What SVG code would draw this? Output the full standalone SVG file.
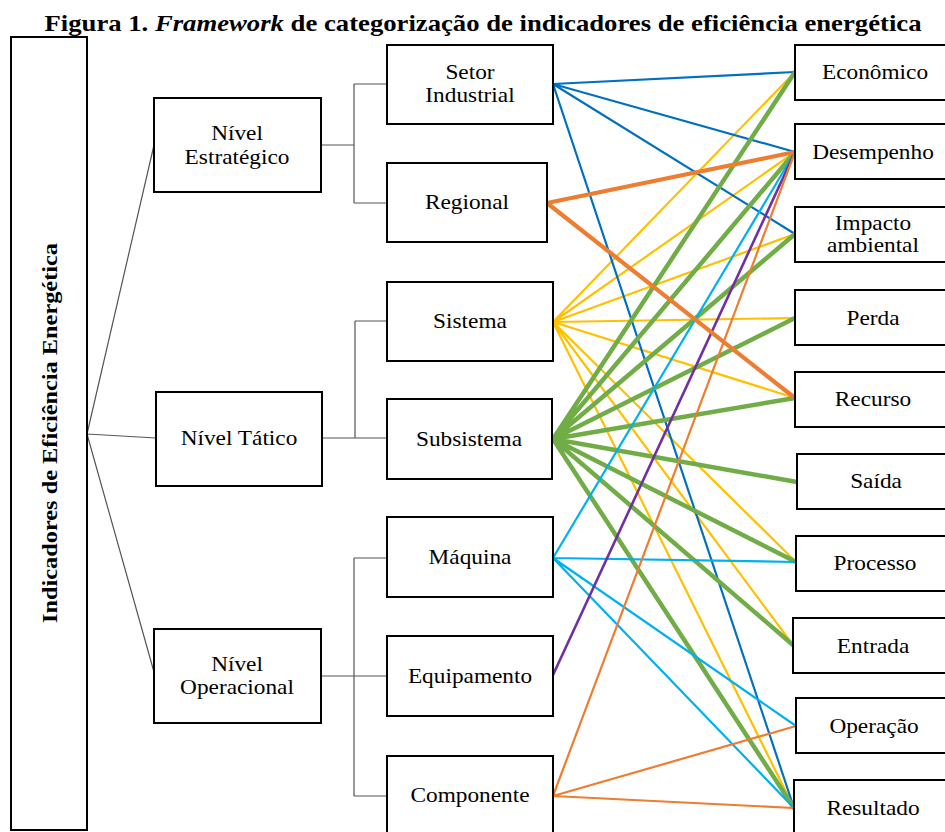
<svg xmlns="http://www.w3.org/2000/svg" width="945" height="832" viewBox="0 0 945 832">
<style>
.box{fill:#fff;stroke:#000;stroke-width:2}
.t{font-family:'Liberation Serif','Times New Roman',Tinos,serif;font-size:21px;fill:#000;text-anchor:middle}
.ttl{font-family:'Liberation Serif','Times New Roman',Tinos,serif;font-weight:bold;fill:#000;text-anchor:middle}
.tree{fill:none;stroke:#555;stroke-width:1.2}
.c{fill:none;stroke-linecap:round}
.blue{stroke:#0070C0;stroke-width:2.2}
.orT{stroke:#ED7D31;stroke-width:4.2}
.or{stroke:#ED7D31;stroke-width:2.2}
.yel{stroke:#FFC000;stroke-width:2.2}
.grn{stroke:#70AD47;stroke-width:4.5}
.cy{stroke:#00B0F0;stroke-width:2.2}
.pu{stroke:#7030A0;stroke-width:2.6}
</style>
<rect width="945" height="832" fill="#fff"/>
<text class="ttl" x="483" y="31" font-size="23.5" textLength="877" lengthAdjust="spacingAndGlyphs">Figura 1. <tspan font-style="italic">Framework</tspan> de categorização de indicadores de eficiência energética</text>

<g id="tree-lines">
<path class="tree" d="M87,434 L154,145 M87,434 L156,438 M87,434 L154,672"/>
<path class="tree" d="M321,145 H354 M354,84 V203 M354,84 H387 M354,203 H387"/>
<path class="tree" d="M322,438 H387 M355,321 V438 M355,321 H387"/>
<path class="tree" d="M321,676 H387 M354,558 V796 M354,558 H387 M354,796 H387"/>
</g>

<g id="connectors">
<path class="c yel" d="M553,322 L795,72 M553,322 L795,152 M553,322 L795,234 M553,322 L795,318 M553,322 L795,398 M553,322 L796,562 M553,322 L793,645 M553,322 L794,808"/>
<path class="c blue" d="M553,84 L795,72 M553,84 L795,152 M553,84 L795,234 M553,84 L794,808"/>
<path class="c grn" d="M553,439 L795,72 M553,439 L795,152 M553,439 L795,234 M553,439 L795,318 M553,439 L795,398 M553,439 L797,482 M553,439 L796,562 M553,439 L793,645 M553,439 L794,808"/>
<path class="c cy" d="M553,558 L795,152 M553,558 L796,562 M553,558 L796,726 M553,558 L794,808"/>
<path class="c pu" d="M553,675 L795,152"/>
<path class="c or" d="M553,796 L795,152 M553,796 L796,726 M553,796 L794,808"/>
<path class="c orT" d="M547,203 L795,152 M547,203 L795,398"/>
</g>

<g id="root"><rect class="box" x="11" y="37" width="76" height="793"/>
<text class="ttl" transform="translate(57,433) rotate(-90)" font-size="21" textLength="380" lengthAdjust="spacingAndGlyphs">Indicadores de Eficiência Energética</text></g>

<g id="estrategico"><rect class="box" x="154" y="98" width="167" height="94"/><text class="t" transform="translate(237,140) scale(1.11,1)">Nível</text><text class="t" transform="translate(237,164) scale(1.11,1)">Estratégico</text></g>
<g id="tatico"><rect class="box" x="156" y="392" width="166" height="94"/><text class="t" transform="translate(239,445) scale(1.11,1)">Nível Tático</text></g>
<g id="operacional"><rect class="box" x="154" y="629" width="167" height="94"/><text class="t" transform="translate(237,671) scale(1.11,1)">Nível</text><text class="t" transform="translate(237,694) scale(1.11,1)">Operacional</text></g>

<g id="setor"><rect class="box" x="387" y="45" width="166" height="79"/><text class="t" transform="translate(470,79) scale(1.11,1)">Setor</text><text class="t" transform="translate(470,102) scale(1.11,1)">Industrial</text></g>
<g id="regional"><rect class="box" x="387" y="163" width="160" height="79"/><text class="t" transform="translate(467,209) scale(1.11,1)">Regional</text></g>
<g id="sistema"><rect class="box" x="387" y="282" width="166" height="79"/><text class="t" transform="translate(470,328) scale(1.11,1)">Sistema</text></g>
<g id="subsistema"><rect class="box" x="387" y="399" width="165" height="80"/><text class="t" transform="translate(469,446) scale(1.11,1)">Subsistema</text></g>
<g id="maquina"><rect class="box" x="387" y="517" width="166" height="80"/><text class="t" transform="translate(470,564) scale(1.11,1)">Máquina</text></g>
<g id="equipamento"><rect class="box" x="387" y="636" width="166" height="80"/><text class="t" transform="translate(470,683) scale(1.11,1)">Equipamento</text></g>
<g id="componente"><rect class="box" x="387" y="756" width="166" height="90"/><text class="t" transform="translate(470,802) scale(1.11,1)">Componente</text></g>

<g id="economico"><rect class="box" x="795" y="45" width="160" height="55"/><text class="t" transform="translate(875,79) scale(1.11,1)">Econômico</text></g>
<g id="desempenho"><rect class="box" x="795" y="124" width="160" height="55"/><text class="t" transform="translate(873,159) scale(1.11,1)">Desempenho</text></g>
<g id="impacto"><rect class="box" x="795" y="207" width="160" height="55"/><text class="t" transform="translate(873,230) scale(1.11,1)">Impacto</text><text class="t" transform="translate(873,252) scale(1.11,1)">ambiental</text></g>
<g id="perda"><rect class="box" x="795" y="290" width="160" height="55"/><text class="t" transform="translate(873,325) scale(1.11,1)">Perda</text></g>
<g id="recurso"><rect class="box" x="795" y="372" width="160" height="55"/><text class="t" transform="translate(873,406) scale(1.11,1)">Recurso</text></g>
<g id="saida"><rect class="box" x="797" y="454" width="160" height="55"/><text class="t" transform="translate(876,488) scale(1.11,1)">Saída</text></g>
<g id="processo"><rect class="box" x="796" y="536" width="160" height="55"/><text class="t" transform="translate(875,570) scale(1.11,1)">Processo</text></g>
<g id="entrada"><rect class="box" x="793" y="618" width="160" height="55"/><text class="t" transform="translate(873,653) scale(1.11,1)">Entrada</text></g>
<g id="operacao"><rect class="box" x="796" y="698" width="160" height="55"/><text class="t" transform="translate(874,733) scale(1.11,1)">Operação</text></g>
<g id="resultado"><rect class="box" x="794" y="780" width="160" height="60"/><text class="t" transform="translate(873,815) scale(1.11,1)">Resultado</text></g>
</svg>
